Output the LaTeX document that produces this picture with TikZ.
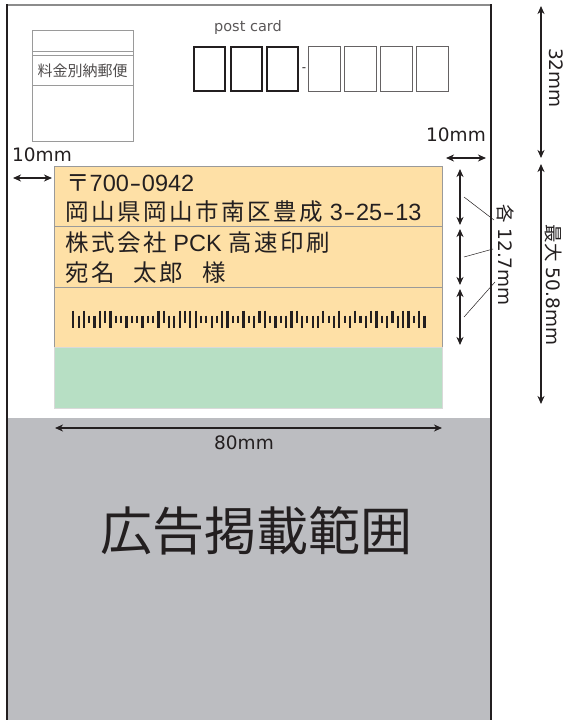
\documentclass[tikz,border=0pt]{standalone}
\usepackage{graphicx}
\usepackage{fontspec}
\setmainfont{DejaVu Sans}
\newfontfamily\jp{Noto Sans CJK JP}
\newfontfamily\jpw[LetterSpace=11]{Noto Sans CJK JP}
\newfontfamily\lat{Liberation Sans}
\usepackage{tikz}
\usetikzlibrary{calc}
\usetikzlibrary{arrows.meta}
\usetikzlibrary{positioning}

\definecolor{ink}{HTML}{231F20}
\definecolor{adgray}{HTML}{BCBDC1}
\definecolor{addrorange}{HTML}{FEE0A6}
\definecolor{codegreen}{HTML}{B7DFC4}
\definecolor{framegray}{HTML}{8C8C8C}
\definecolor{softgray}{HTML}{9A9A9A}

% wide hyphen as in the address block
\newcommand{\adrdash}{\makebox[0.556em]{\scalebox{1.5}[1]{-}}}

\tikzset{
  dimarrow/.style={{Stealth[length=8pt,width=7pt,inset=2.5pt]}-{Stealth[length=8pt,width=7pt,inset=2.5pt]}, line width=1.4pt, draw=ink},
  leader/.style={draw=ink, line width=0.5pt},
  zipbox/.style={draw, minimum width=31pt, minimum height=44pt, inner sep=0pt},
  addrline/.style={anchor=base west, inner sep=0pt, text=ink, font=\lat\fontsize{23.5}{26}\selectfont},
  dimlabel/.style={inner sep=0pt, text=ink, font=\fontsize{18.5}{20}\selectfont},
}

\begin{document}
\begin{tikzpicture}[x=1pt, y=-1pt]
    \path[use as bounding box] (0,0) rectangle (566,720);
    % card
    \fill[adgray] (7,418) rectangle (491,720);
    \draw[framegray, line width=2pt] (7,5) -- (491,5);
    \draw[ink, line width=1.1pt] (7,4) -- (7,720);
    \draw[ink, line width=1.1pt] (491,4) -- (491,720);
    % stamp box
    \draw[softgray, line width=0.8pt] (32,30) rectangle (133,141);
    \draw[softgray, line width=0.8pt] (32,51) -- (133,51);
    \draw[softgray, line width=0.8pt] (32,55) -- (133,55);
    \draw[softgray, line width=0.8pt] (32,85) -- (133,85);
    \node[inner sep=0pt, text=ink!80, font=\jp\fontsize{15}{16}\selectfont] (stamp) at (82.5,71) {料金別納郵便};
    % post code boxes
    \node[text=ink!75, inner sep=0pt, font=\fontsize{14.5}{15}\selectfont] (postcard) at (248,27) {post card};
    \foreach \i/\x in {1/209.5, 2/246.5, 3/282.5}
    \node[zipbox, draw=ink, line width=2.2pt] (zip\i) at (\x,69) {};
    \foreach \i/\x in {4/324.5, 5/360.5, 6/396.5, 7/432.5}
    \node[zipbox, draw=ink!70, line width=1pt, minimum width=32pt, minimum height=45pt] (zip\i) at (\x,69) {};
    \node[inner sep=0pt, text=ink, font=\fontsize{12}{12}\selectfont] (dash) at (304,69.5) {-};
    % address area
    \draw[fill=addrorange, draw=softgray, line width=0.8pt] (54,166) rectangle (442,347);
    \draw[softgray, line width=0.8pt] (54,226.5) -- (442,226.5);
    \draw[softgray, line width=0.8pt] (54,287) -- (442,287);
    \draw[fill=codegreen, draw=black!15, line width=0.8pt] (54,347) rectangle (442,408);
    \node[addrline] (zipline) at (66,191) {{\jpw 〒}700\adrdash0942};
    \node[addrline] (pref) at (65,220) {{\jpw 岡山県岡山市南区豊成} 3\adrdash25\adrdash13};
    \node[addrline] (company) at (65,251) {{\jpw 株式会社} PCK {\jpw 高速印刷}};
    \node[addrline] (person) at (65,281) {{\jpw 宛名}{\jp\fontsize{19}{26}\selectfont 　}{\jpw 太郎}{\jp\fontsize{19}{26}\selectfont 　}{\jpw 様}};
    % customer barcode: 0 long, 1 upper, 2 lower, 3 short
    \foreach \b [count=\i from 0] in {0,2,0,3,2,0,1,0,3,3,2,3,3,2,3,3,0,1,2,2,0,1,0,0,3,3,2,3,0,0,3,3,0,3,2,1,0,3,2,3,2,0,1,2,3,2,2,1,3,2,0,3,2,1,3,2,1,0,3,2,1,2,0,0,3,0,2}
    {
        \pgfmathsetmacro\bx{73.3+5.32*\i}
        \pgfmathsetmacro\bt{{310.5,310.5,315.5,315.5}[\b]}
        \pgfmathsetmacro\bb{{327.5,322.5,327.5,322.5}[\b]}
        \draw[ink, line width=2.2pt] (\bx,\bt) -- (\bx,\bb);
    }
    % margins
    \coordinate (ml1) at (13,178);
    \coordinate (ml2) at (52,178);
    \draw[dimarrow] (ml1) -- (ml2);
    \node[dimlabel] (mlt) at (42,155) {10mm};
    \coordinate (mr1) at (446,158);
    \coordinate (mr2) at (486,158);
    \draw[dimarrow] (mr1) -- (mr2);
    \node[dimlabel] (mrt) at (456,135) {10mm};
    % line heights
    \foreach \n/\ya/\yb in {1/169/225, 2/229/285, 3/289/345}
    {
        \coordinate (h\n a) at (460,\ya);
        \coordinate (h\n b) at (460,\yb);
        \draw[dimarrow] (h\n a) -- (h\n b);
    }
    \node[dimlabel, rotate=-90] (each) at (506,255) {{\jp 各} 12.7mm};
    \coordinate (ld1) at (494,220);
    \coordinate (ld2) at (493,249);
    \coordinate (ld3) at (495,282);
    \draw[leader] ($(h1a)!0.5!(h1b)+(4,0)$) -- (ld1);
    \draw[leader] ($(h2a)!0.5!(h2b)+(4,0)$) -- (ld2);
    \draw[leader] ($(h3a)!0.5!(h3b)+(4,0)$) -- (ld3);
    % right side
    \coordinate (top1) at (541,6);
    \coordinate (top2) at (541,158);
    \draw[dimarrow] (top1) -- (top2);
    \node[dimlabel, rotate=-90] (topt) at (556,78) {32mm};
    \coordinate (max1) at (541,164);
    \coordinate (max2) at (541,404);
    \draw[dimarrow] (max1) -- (max2);
    \node[dimlabel, rotate=-90] (maxt) at (554,285) {{\jp 最大} 50.8mm};
    % width
    \coordinate (w1) at (55,428);
    \coordinate (w2) at (442,428);
    \draw[dimarrow] (w1) -- (w2);
    \node[dimlabel] (wt) at (244,443) {80mm};
    % ad area
    \node[inner sep=0pt, text=ink, font=\jp\fontsize{52}{56}\selectfont] (ad) at (256,531) {広告掲載範囲};
\end{tikzpicture}
\end{document}
